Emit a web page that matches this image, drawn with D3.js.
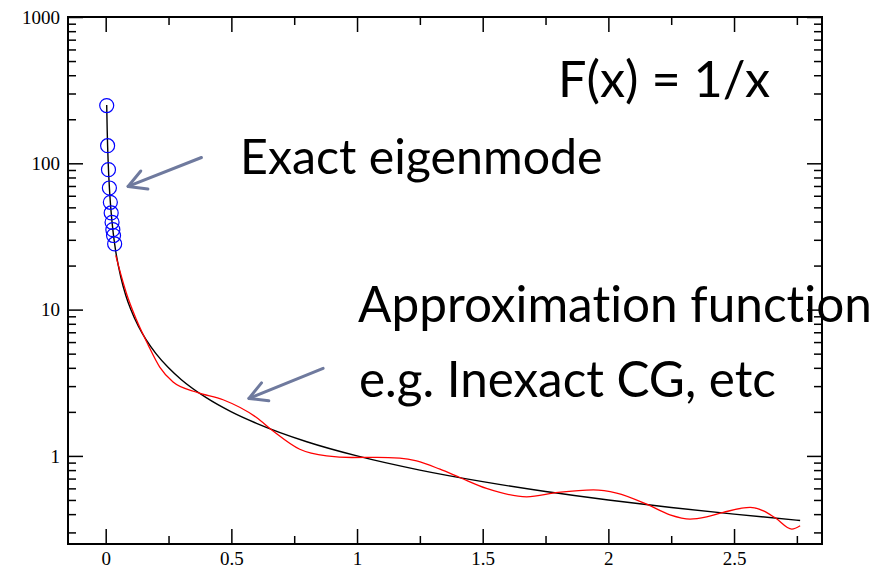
<!DOCTYPE html>
<html>
<head>
<meta charset="utf-8">
<script src="https://cdn.jsdelivr.net/npm/d3@7"></script>
<style>
    body { margin: 0; background: #ffffff; }
    svg { display: block; }
</style>
</head>
<body>
<svg id="chart" width="885" height="568"></svg>
<script>

// Exact eigenmodes (blue circles)
var eigen_x = [ 0.004, 0.0076, 0.011, 0.0147, 0.0185, 0.0218, 0.0253, 0.0284, 0.0312, 0.0356 ];
var eigen_y = [ 248, 132, 90.5, 67.8, 54.1, 45.8, 39.5, 35.2, 32.1, 28.1 ];

// F(x) = 1/x
var exact_x = [ 0.004, 0.006, 0.01, 0.015, 0.02, 0.03, 0.04, 0.06, 0.08, 0.1, 0.13, 0.16, 0.2, 0.25, 0.3, 0.4, 0.5, 0.6, 0.8, 1.0, 1.25, 1.5, 1.75, 2.0, 2.25, 2.5, 2.763 ];
var exact_y = [ 250, 167, 100, 66.7, 50, 33.3, 25, 16.7, 12.5, 10, 7.69, 6.25, 5, 4, 3.33, 2.5, 2, 1.67, 1.25, 1, 0.8, 0.667, 0.571, 0.5, 0.444, 0.4, 0.362 ];

// Approximation function (red curve)
var approx_x = [ 0.040, 0.062, 0.082, 0.122, 0.168, 0.215, 0.268, 0.367, 0.467, 0.60, 0.666, 0.772, 0.879, 0.98, 1.08, 1.17, 1.237, 1.33, 1.409, 1.515, 1.675, 1.80, 1.94, 2.033, 2.152, 2.245, 2.325, 2.391, 2.457, 2.564, 2.617, 2.665, 2.730, 2.763 ];
var approx_y = [ 23.5, 17.0, 13.0, 8.56, 5.78, 4.05, 3.2, 2.71, 2.42, 1.83, 1.48, 1.11, 1.0, 0.975, 0.978, 0.965, 0.924, 0.811, 0.712, 0.60, 0.525, 0.563, 0.586, 0.557, 0.468, 0.396, 0.37, 0.383, 0.411, 0.445, 0.421, 0.376, 0.316, 0.333 ];

// Ticks
var x_major_ticks = [ 0, 0.5, 1, 1.5, 2, 2.5 ];
var x_minor_ticks = [ 0.25, 0.75, 1.25, 1.75, 2.25, 2.75 ];
var y_major_ticks = [ 1, 10, 100, 1000 ];
var y_minor_ticks = [ 0.3, 0.4, 0.5, 0.6, 0.7, 0.8, 0.9,
                      2, 3, 4, 5, 6, 7, 8, 9,
                      20, 30, 40, 50, 60, 70, 80, 90,
                      200, 300, 400, 500, 600, 700, 800, 900 ];

// Annotations: text, data-space arrows
var label_texts = [ 'F(x) = 1/x', 'Exact eigenmode', 'Approximation function', 'e.g. Inexact CG, etc' ];
var arrow_tails = [ [ 0.381, 109.6 ], [ 0.865, 3.97 ] ];
var arrow_tips = [ [ 0.089, 69.5 ], [ 0.570, 2.47 ] ];

draw_chart();

function draw_chart () {

    var left = 68, right = 822, top = 17, bottom = 544;
    var svg = d3.select( '#chart' );

    var x = d3.scaleLinear().domain( [ -0.15, 2.85 ] ).range( [ left, right ] );
    var y = d3.scaleLog().domain( [ 0.25, 1000 ] ).range( [ bottom, top ] );

    var tick_font = '"Liberation Serif", "DejaVu Serif", serif';

    // Axes: major and minor ticks all pointing inward, mirrored on the far sides
    add_axis( d3.axisBottom( x ).tickValues( x_major_ticks ).tickSize( -15 ).tickPadding( 8 ).tickFormat( d3.format( '' ) ), 'translate(0,' + bottom + ')', true );
    add_axis( d3.axisBottom( x ).tickValues( x_minor_ticks ).tickSize( -8 ).tickFormat( '' ), 'translate(0,' + bottom + ')', false );
    add_axis( d3.axisTop( x ).tickValues( x_major_ticks ).tickSize( -15 ).tickFormat( '' ), 'translate(0,' + top + ')', false );
    add_axis( d3.axisTop( x ).tickValues( x_minor_ticks ).tickSize( -8 ).tickFormat( '' ), 'translate(0,' + top + ')', false );

    add_axis( d3.axisLeft( y ).tickValues( y_major_ticks ).tickSize( -15 ).tickPadding( 8 ).tickFormat( d3.format( 'd' ) ), 'translate(' + left + ',0)', true );
    add_axis( d3.axisLeft( y ).tickValues( y_minor_ticks ).tickSize( -8 ).tickFormat( '' ), 'translate(' + left + ',0)', false );
    add_axis( d3.axisRight( y ).tickValues( y_major_ticks ).tickSize( -15 ).tickFormat( '' ), 'translate(' + right + ',0)', false );
    add_axis( d3.axisRight( y ).tickValues( y_minor_ticks ).tickSize( -8 ).tickFormat( '' ), 'translate(' + right + ',0)', false );

    // Frame
    svg.append( 'rect' )
        .attr( 'x', left )
        .attr( 'y', top )
        .attr( 'width', right - left )
        .attr( 'height', bottom - top )
        .attr( 'fill', 'none' )
        .attr( 'stroke', 'black' )
        .attr( 'stroke-width', 2 );

    // Exact curve
    var exact_line = d3.line()
        .x( function ( d ) { return x( d[ 0 ] ); } )
        .y( function ( d ) { return y( d[ 1 ] ); } )
        .curve( d3.curveMonotoneX );

    svg.append( 'path' )
        .datum( d3.zip( exact_x, exact_y ) )
        .attr( 'd', exact_line )
        .attr( 'fill', 'none' )
        .attr( 'stroke', 'black' )
        .attr( 'stroke-width', 1.4 );

    // Approximation curve
    var approx_line = d3.line()
        .x( function ( d ) { return x( d[ 0 ] ); } )
        .y( function ( d ) { return y( d[ 1 ] ); } )
        .curve( d3.curveMonotoneX );

    svg.append( 'path' )
        .datum( d3.zip( approx_x, approx_y ) )
        .attr( 'd', approx_line )
        .attr( 'fill', 'none' )
        .attr( 'stroke', '#ff0000' )
        .attr( 'stroke-width', 1.3 );

    // Eigenmodes
    svg.append( 'g' )
        .selectAll( 'circle' )
        .data( d3.zip( eigen_x, eigen_y ) )
        .join( 'circle' )
        .attr( 'cx', function ( d ) { return x( d[ 0 ] ); } )
        .attr( 'cy', function ( d ) { return y( d[ 1 ] ); } )
        .attr( 'r', 7 )
        .attr( 'fill', 'none' )
        .attr( 'stroke', '#0000ff' )
        .attr( 'stroke-width', 1.2 );

    // Arrows
    for ( var i = 0; i < arrow_tips.length; i++ ) {
        draw_arrow( x( arrow_tails[ i ][ 0 ] ), y( arrow_tails[ i ][ 1 ] ), x( arrow_tips[ i ][ 0 ] ), y( arrow_tips[ i ][ 1 ] ) );
    }

    // Labels, fitted to the widths in the picture
    add_label( label_texts[ 0 ], 558, 97, 212 );
    add_label( label_texts[ 1 ], 240, 174, 363 );
    add_label( label_texts[ 2 ], 358, 322, 514 );
    add_label( label_texts[ 3 ], 359, 397, 417 );

    function add_axis ( axis, transform, labelled ) {

        var g = svg.append( 'g' )
            .attr( 'transform', transform )
            .call( axis.tickSizeOuter( 0 ) );

        g.select( '.domain' ).remove();
        g.selectAll( '.tick line' )
            .attr( 'stroke', 'black' )
            .attr( 'stroke-width', 1.5 );

        if ( labelled ) {
            g.selectAll( '.tick text' )
                .attr( 'fill', 'black' )
                .style( 'font-family', tick_font )
                .style( 'font-size', '19px' );
        }

    }

    function draw_arrow ( x0, y0, x1, y1 ) {

        var angle = Math.atan2( y0 - y1, x0 - x1 );
        var len = 20, spread = 29 * Math.PI / 180;
        var g = svg.append( 'g' )
            .attr( 'stroke', '#6f7a9e' )
            .attr( 'stroke-width', 3 )
            .attr( 'fill', 'none' )
            .attr( 'stroke-linecap', 'round' )
            .attr( 'stroke-linejoin', 'round' );

        g.append( 'line' )
            .attr( 'x1', x0 ).attr( 'y1', y0 )
            .attr( 'x2', x1 ).attr( 'y2', y1 );

        g.append( 'polyline' )
            .attr( 'points', [
                [ x1 + len * Math.cos( angle - spread ), y1 + len * Math.sin( angle - spread ) ],
                [ x1, y1 ],
                [ x1 + len * Math.cos( angle + spread ), y1 + len * Math.sin( angle + spread ) ]
            ].map( function ( p ) { return p.join( ',' ); } ).join( ' ' ) );

    }

    function add_label ( text, lx, ly, width ) {

        var t = svg.append( 'text' )
            .attr( 'x', lx )
            .attr( 'y', ly )
            .attr( 'fill', 'black' )
            .style( 'font-family', 'Lato, "Open Sans", sans-serif' )
            .style( 'font-variant-ligatures', 'none' )
            .style( 'font-size', '40px' )
            .text( text );

        var w = t.node().getComputedTextLength();
        t.style( 'font-size', ( 40 * width / w ).toFixed( 1 ) + 'px' );

    }

}

</script>
</body>
</html>
